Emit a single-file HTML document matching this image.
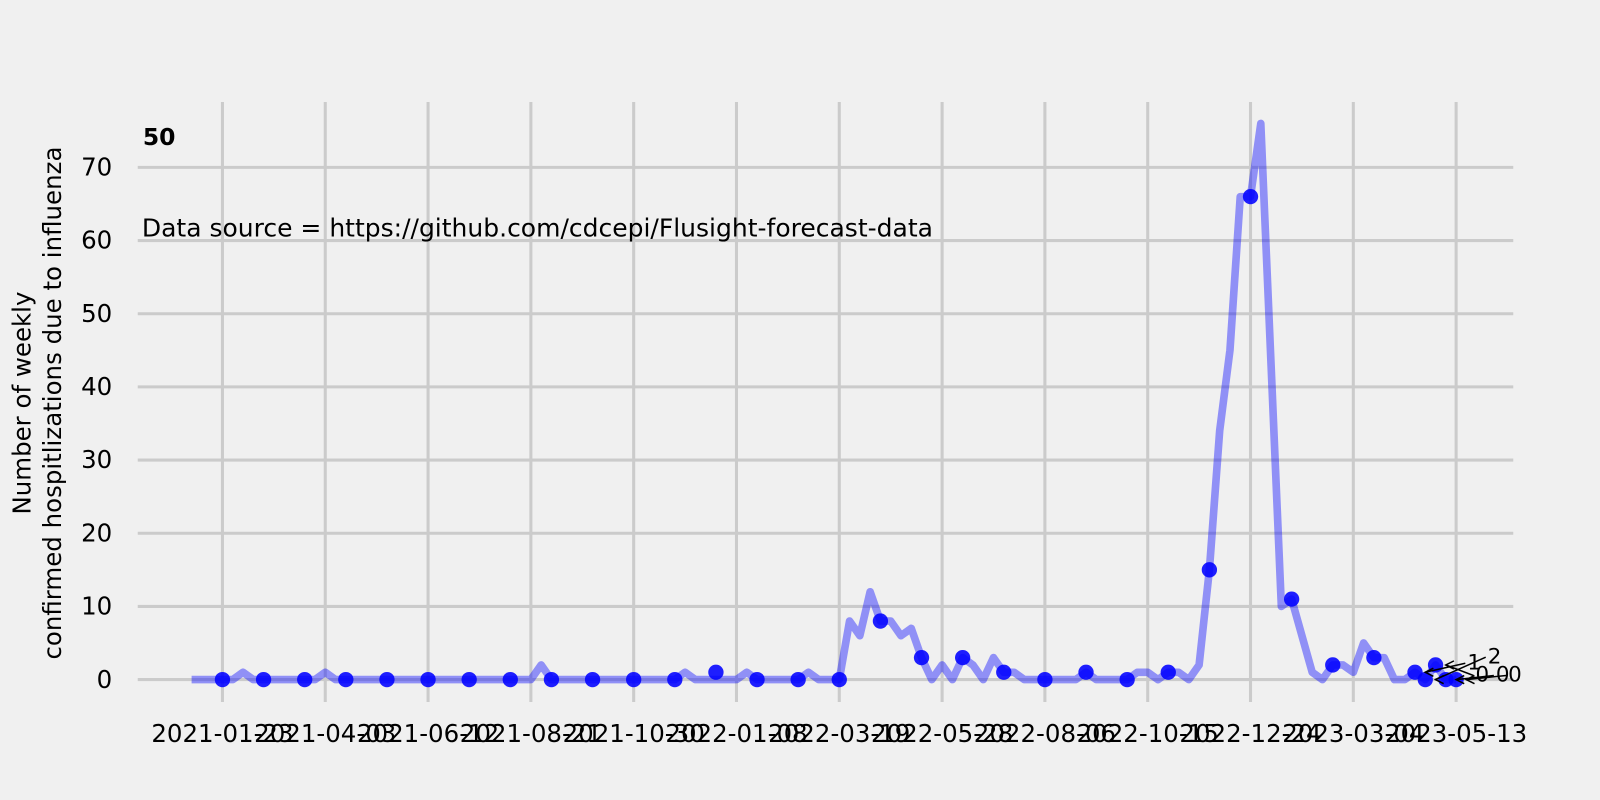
<!DOCTYPE html>
<html><head><meta charset="utf-8"><style>
body{margin:0;background:#f0f0f0;}
svg{display:block;font-family:"DejaVu Sans","Liberation Sans",sans-serif;}
</style></head><body>
<svg id="chart" width="1600" height="800" viewBox="0 0 1568 784">
<rect width="1568" height="784" fill="#f0f0f0"/>
<g id="grid"></g>
<g id="series"></g>
<text x="140" y="142" font-size="23" font-weight="bold">50</text>
<text x="139" y="232" font-size="24.5">Data source = https://github.com/cdcepi/Flusight-forecast-data</text>
<text transform="translate(30,395) rotate(-90)" text-anchor="middle" font-size="24"><tspan x="0" dy="0">Number of weekly</tspan><tspan x="0" dy="30">confirmed hospitlizations due to influenza</tspan></text>
</svg>
<script>
const xTickLabels=["2021-01-23","2021-04-03","2021-06-12","2021-08-21","2021-10-30","2022-01-08","2022-03-19","2022-05-28","2022-08-06","2022-10-15","2022-12-24","2023-03-04","2023-05-13"];
const yTicks=[0,10,20,30,40,50,60,70];
const lineValues=[0,0,0,0,0,1,0,0,0,0,0,0,0,1,0,0,0,0,0,0,0,0,0,0,0,0,0,0,0,0,0,0,0,0,2,0,0,0,0,0,0,0,0,0,0,0,0,0,1,0,0,0,0,0,1,0,0,0,0,0,1,0,0,0,8,6,12,8,8,6,7,3,0,2,0,3,2,0,3,1,1,0,0,0,0,0,0,1,0,0,0,0,1,1,0,1,1,0,2,15,34,45,66,66,76,43,10,11,6,1,0,2,2,1,5,3,3,0,0,1,0,2,0,0];
const dotWeeks=[3,7,11,15,19,23,27,31,35,39,43,47,51,55,59,63,67,71,75,79,83,87,91,95,99,103,107,111,115,119,120,121,122,123];
const dotValues=[0,0,0,0,0,0,0,0,0,0,0,0,1,0,0,0,8,3,3,1,0,1,0,1,15,66,11,2,3,1,0,2,0,0];
const annotLabels=["1","2","0","0","0"];
const NS="http://www.w3.org/2000/svg";
const X=i=>218+(i-3)*10.075;
const Y=v=>666-v*7.171;
function mk(tag,attrs,parent){const e=document.createElementNS(NS,tag);for(const k in attrs)e.setAttribute(k,attrs[k]);parent.appendChild(e);return e;}
const grid=document.getElementById('grid'),series=document.getElementById('series'),svg=document.getElementById('chart');
yTicks.forEach(v=>{
 const l=mk('line',{x1:135,x2:1483,y1:Y(v),y2:Y(v),stroke:'#cbcbcb','stroke-width':3},grid);
 
 
 const t=mk('text',{x:110,y:Y(v)+8,'text-anchor':'end','font-size':24,fill:'#000'},svg);
 t.textContent=v;
 
 
});
xTickLabels.forEach((s,k)=>{
 const x=X(3+k*10);
 const l=mk('line',{x1:x,x2:x,y1:100,y2:688,stroke:'#cbcbcb','stroke-width':3},grid);
 
 
 const t=mk('text',{x:x,y:727,'text-anchor':'middle','font-size':24,fill:'#000'},svg);
 t.textContent=s;
 
 
});
const pts=lineValues.map((v,i)=>X(i)+','+Y(v)).join(' ');
const pl=mk('polyline',{points:pts,fill:'none',stroke:'rgba(0,0,255,0.4)','stroke-width':7.5,'stroke-linejoin':'round'},series);


dotWeeks.forEach((w,k)=>{
 const c=mk('circle',{cx:X(w),cy:Y(dotValues[k]),r:7.5,fill:'rgba(0,0,255,0.88)'},series);
 
 
});
const annPos=[[1438,656],[1458,650],[1446,668],[1466,668],[1478,668]];
annotLabels.forEach((s,k)=>{
 const w=dotWeeks[dotWeeks.length-5+k];
 const [tx,ty]=annPos[k];
 const px=X(w)+6,py=Y(dotValues[dotWeeks.length-5+k]);
 const a=mk('line',{x1:tx-2,y1:ty-6,x2:px+4,y2:py,stroke:'#000','stroke-width':1.5},series);
 
 
 const h=mk('polyline',{points:`${px+12},${py-4} ${px+4},${py} ${px+12},${py+4}`,fill:'none',stroke:'#000','stroke-width':1.5},series);
 
 
 const t=mk('text',{x:tx,y:ty,'font-size':21,fill:'#000'},series);
 t.textContent=s;
 
 
});
</script>
</body></html>
